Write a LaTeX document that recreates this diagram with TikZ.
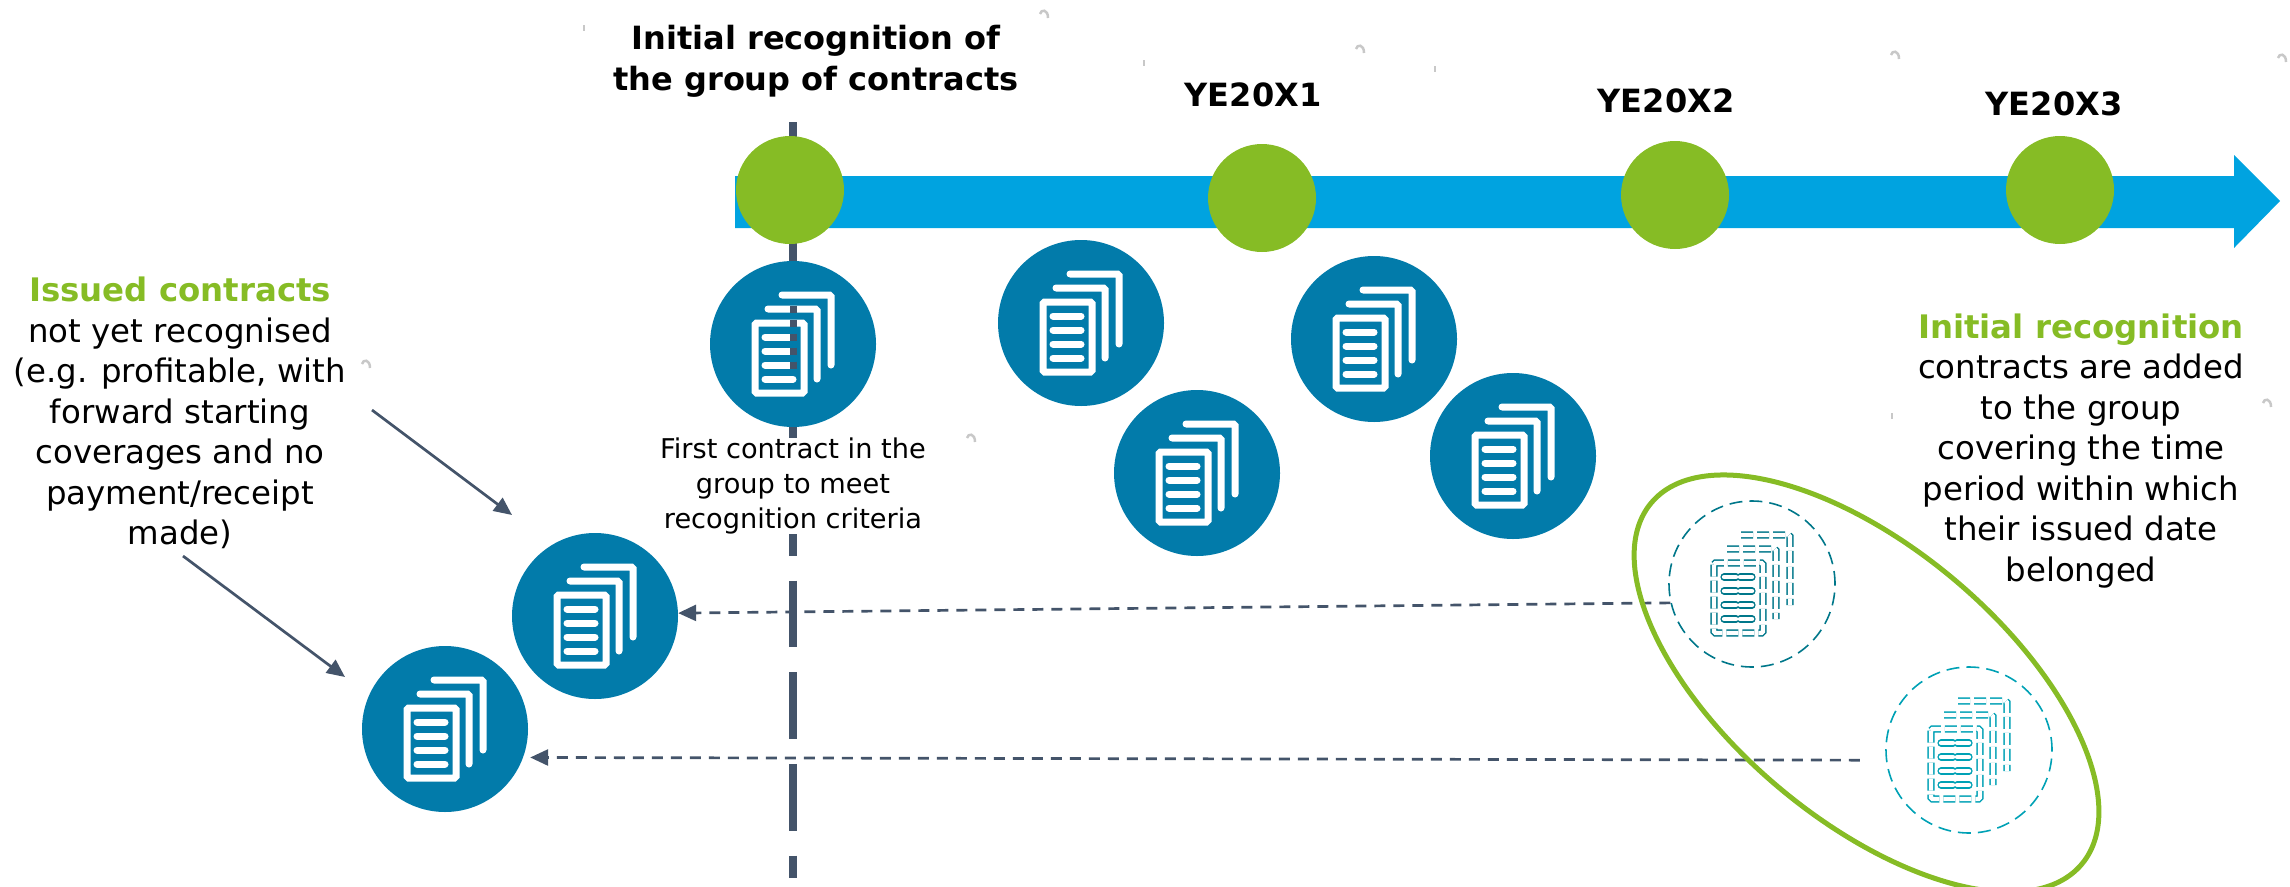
\documentclass[tikz,border=0pt]{standalone}
\usepackage{fontspec}
\setmainfont{DejaVu Sans}
\usetikzlibrary{shapes.geometric,arrows.meta}
\definecolor{barblue}{HTML}{00A3E0}
\definecolor{ygreen}{HTML}{86BC25}
\definecolor{docblue}{HTML}{027BAA}
\definecolor{slate}{HTML}{44546A}
\definecolor{tealone}{HTML}{00778A}
\definecolor{tealtwo}{HTML}{00A1B5}
\definecolor{speck}{HTML}{C8C8C8}
\tikzset{
    year/.style = {circle, fill=ygreen, minimum size=108pt, inner sep=0pt},
    docs/.style = {circle, fill=docblue, minimum size=166pt, inner sep=0pt},
    ghost/.style = {circle, draw, line width=1.6pt, dash pattern=on 13pt off 7pt, minimum size=166pt, inner sep=0pt},
    head/.style = {font=\fontsize{32}{40.5}\selectfont\bfseries, align=center, inner sep=0pt},
    body/.style = {font=\fontsize{32.4}{40.5}\selectfont, align=center, inner sep=0pt},
    note/.style = {font=\fontsize{27.2}{35}\selectfont, align=center, inner sep=0pt, fill=white},
    leader/.style = {draw=slate, line width=2.7pt, -{Triangle[length=18pt,width=16pt]}},
    back/.style = {leader, dash pattern=on 11pt off 8pt},
    paper/.style = {draw=white, line width=7pt, rounded corners=1.5pt, line cap=round},
    paperghost/.style = {draw, line width=1.4pt, double=white, double distance=4.4pt, dash pattern=on 12pt off 4pt, rounded corners=1.5pt},
}
% the stack of sheets drawn in every circle
\newcommand{\sheets}[1]{
    \begin{scope}[shift={(#1.center)}]
        \path [sheetline] (-11,-49) -- (38,-49) -- (38,21);
        \path [sheetline] (-25,-35) -- (24,-35) -- (24,35);
        \path [sheetline] (-38,-21) rectangle (11,49);
        \foreach \y in {-7,7,21,35}
            \path [sheetline, rounded corners=0pt, line cap=round] (-28,\y) -- (0,\y);
    \end{scope}
}
\begin{document}
\begin{tikzpicture}[x=1pt, y=-1pt, sheetline/.style={paper}]
    \useasboundingbox (0,0) rectangle (2290,886);
    % small grey marks
    \foreach \x/\y in {1044/13, 1360/48, 1895/54, 2282/57, 971/437, 366/363, 2267/402}
        \draw [speck, line width=2.5pt] (\x-4,\y+1) .. controls (\x-3,\y-4) and (\x+4,\y-4) .. (\x+4,\y+5);
    \foreach \x/\y in {584/28, 1144/63, 1435/69, 1892/416}
        \draw [speck, line width=1.5pt] (\x,\y-3) -- (\x,\y+3);
    % recognition date line
    \coordinate (lineTop) at (793,122);
    \coordinate (lineEnd) at (793,878);
    \draw [slate, line width=8pt, dash pattern=on 66.7pt off 25pt] (lineTop) -- (lineEnd);
    % time line
    \fill [barblue] (735,176) -- (2234,176) -- (2234,155) -- (2280,201) -- (2234,248) -- (2234,228) -- (735,228) -- cycle;
    \node [year] (start) at (790,190) {};
    \node [year] (y1) at (1262,198) {};
    \node [year] (y2) at (1675,195) {};
    \node [year] (y3) at (2060,190) {};
    % contracts
    \node [docs] (first) at (793,344) {};
    \node [docs] (c1) at (1081,323) {};
    \node [docs] (c2) at (1197,473) {};
    \node [docs] (c3) at (1374,339) {};
    \node [docs] (c4) at (1513,456) {};
    \node [docs] (issuedA) at (595,616) {};
    \node [docs] (issuedB) at (445,729) {};
    \node [ghost, tealone] (groupA) at (1752,584) {};
    \node [ghost, tealtwo] (groupB) at (1969,750) {};
    \sheets{first}
    \sheets{c1}
    \sheets{c2}
    \sheets{c3}
    \sheets{c4}
    \sheets{issuedA}
    \sheets{issuedB}
    % date line seen through the sheets of the first contract
    \foreach \y in {309,323,337,351,365}
        \draw [slate, line width=7pt] (793,\y-3.5) -- (793,\y+3.5);
    \begin{scope}[sheetline/.style={paperghost, tealone}]
        \sheets{groupA}
    \end{scope}
    \begin{scope}[sheetline/.style={paperghost, tealtwo}]
        \sheets{groupB}
    \end{scope}
    % labels
    \node [head] (title) at (816,61.5) {Initial recognition of\\the group of contracts};
    \node [head] (ye1) at (1253,95) {YE20X1};
    \node [head] (ye2) at (1666,101) {YE20X2};
    \node [head] (ye3) at (2054,104) {YE20X3};
    \node [body] (issuedText) at (180,413) {\textcolor{ygreen}{\bfseries Issued contracts}\\not yet recognised\\(e.g. profitable, with\\forward starting\\coverages and no\\payment/receipt\\made)};
    \node [body] (groupText) at (2081,451) {\textcolor{ygreen}{\bfseries Initial recognition}\\contracts are added\\to the group\\covering the time\\period within which\\their issued date\\belonged};
    \node [note] (firstText) at (793,486) {First contract in the\\group to meet\\recognition criteria};
    % arrows
    \coordinate (fromTextA) at (372,410);
    \coordinate (toIssuedA) at (512,515);
    \coordinate (fromTextB) at (183,556);
    \coordinate (toIssuedB) at (345,677);
    \draw [leader] (fromTextA) -- (toIssuedA);
    \draw [leader] (fromTextB) -- (toIssuedB);
    \draw [back] (groupA.193) -- (issuedA.2);
    \draw [back, shorten <=26pt, shorten >=7pt] (groupB.187) -- (issuedB.-20);
    % group of contracts
    \node [ellipse, draw=ygreen, line width=5pt, minimum width=562pt, minimum height=272pt, inner sep=0pt, rotate=-40] (group) at (1866.5,683.5) {};
\end{tikzpicture}
\end{document}
